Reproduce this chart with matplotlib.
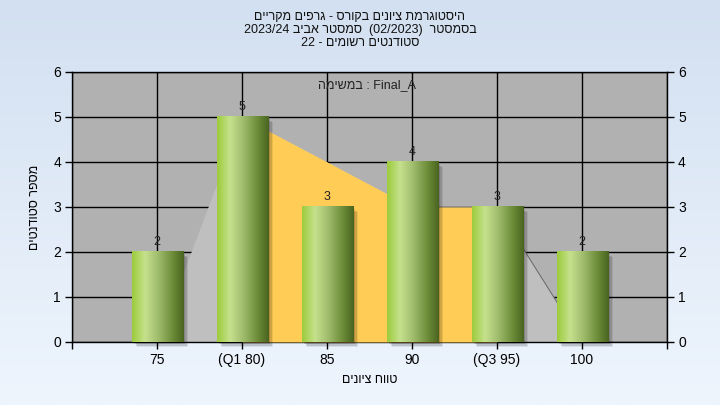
import re
import numpy as np
import matplotlib.pyplot as plt
from matplotlib.colors import LinearSegmentedColormap
from matplotlib.patches import Rectangle

plt.rcParams['font.family'] = ['Liberation Sans', 'DejaVu Sans']

# נתונים
categories = ['75', '(Q1 80)', '85', '90', '(Q3 95)', '100']
counts = [2, 5, 3, 4, 3, 2]
curve = [0, 5, 4, 3, 3, 0]
q1_idx, q3_idx = 1, 4
title_lines = ['היסטוגרמת ציונים בקורס - גרפים מקריים',
               'בסמסטר  (02/2023)  סמסטר אביב 2023/24',
               'סטודנטים רשומים - 22']
task_label = 'Final_A : במשימה'
x_label = 'טווח ציונים'
y_label = 'מספר סטודנטים'


def rtl(s):
    # matplotlib has no bidi: flip to visual order, keep latin/digit runs as they are
    s = s[::-1]
    s = re.sub(r'[0-9A-Za-z_/.]+', lambda m: m.group(0)[::-1], s)
    return s.translate(str.maketrans('()', ')('))


fig = plt.figure(figsize=(7.2, 4.05), dpi=100)

# רקע מדורג
bg = fig.add_axes([0, 0, 1, 1], zorder=-10)
bg_cmap = LinearSegmentedColormap.from_list('bg', ['#d3e0f1', '#eef5fd'])
bg.imshow(np.linspace(0, 1, 256).reshape(-1, 1), cmap=bg_cmap, aspect='auto',
          extent=[0, 1, 0, 1])
bg.axis('off')

ax = fig.add_axes([0.1, 0.1556, 0.8264, 0.6667])
ax.set_facecolor('#b1b1b1')
ax.set_axisbelow(True)
ax.grid(True, color='black', lw=1)

x = np.arange(len(categories))
ax.fill_between(x, curve, color='#bfbfbf', lw=0, zorder=2)
ax.fill_between(x[q1_idx:q3_idx + 1], curve[q1_idx:q3_idx + 1],
                color='#ffcc55', lw=0, zorder=3)
ax.plot(x[q3_idx:], curve[q3_idx:], color='#666666', lw=0.7, zorder=3)

# עמודות עם מעבר צבע וצל
bar_cmap = LinearSegmentedColormap.from_list(
    'bar', [(0, '#9ccb3b'), (0.25, '#c6e18d'), (0.5, '#a0bd6e'),
            (0.8, '#6a8a36'), (1, '#4a6420')])
grad = np.linspace(0, 1, 200).reshape(1, -1)
w = 0.6
for xi, v in zip(x, counts):
    for s, a in [(0.03, 0.15), (0.05, 0.12), (0.07, 0.08)]:
        ax.add_patch(Rectangle((xi - w / 2 + s, -s * 1.6), w, v, color='black',
                               alpha=a, lw=0, zorder=4, clip_on=False))
    ax.imshow(grad, cmap=bar_cmap, extent=[xi - w / 2, xi + w / 2, 0, v],
              aspect='auto', interpolation='bilinear', zorder=5)
    ax.annotate(str(v), (xi, v), xytext=(0, 3), textcoords='offset points',
                ha='center', va='bottom', fontsize=9, color='#222222', zorder=6)

ax.set_xlim(-1, 6)
ax.set_ylim(0, 6)
ax.set_xticks(np.arange(-1, 7))
ax.set_xticklabels([''] + categories + [''])
ax.set_yticks(range(7))
ax.tick_params(axis='both', direction='out', length=5, width=1, labelsize=10,
               colors='black', pad=3)
ax.tick_params(axis='y', right=True, labelright=True)
for sp in ax.spines.values():
    sp.set_color('black')
    sp.set_linewidth(1)

ax.text(0.496, 0.952, rtl(task_label), transform=ax.transAxes, ha='center',
        va='center', fontsize=9, color='#222222', zorder=7)

for i, line in enumerate(title_lines):
    fig.text(0.5, 1 - (17 + 13 * i) / 405, rtl(line), ha='center', va='center',
             fontsize=9, color='#111111')

fig.text(370 / 720, 1 - 380 / 405, rtl(x_label), ha='center', va='center',
         fontsize=9)
fig.text(35 / 720, 1 - 207 / 405, rtl(y_label), ha='center', va='center',
         rotation=90, fontsize=9)

fig.savefig('out.png', dpi=100)
